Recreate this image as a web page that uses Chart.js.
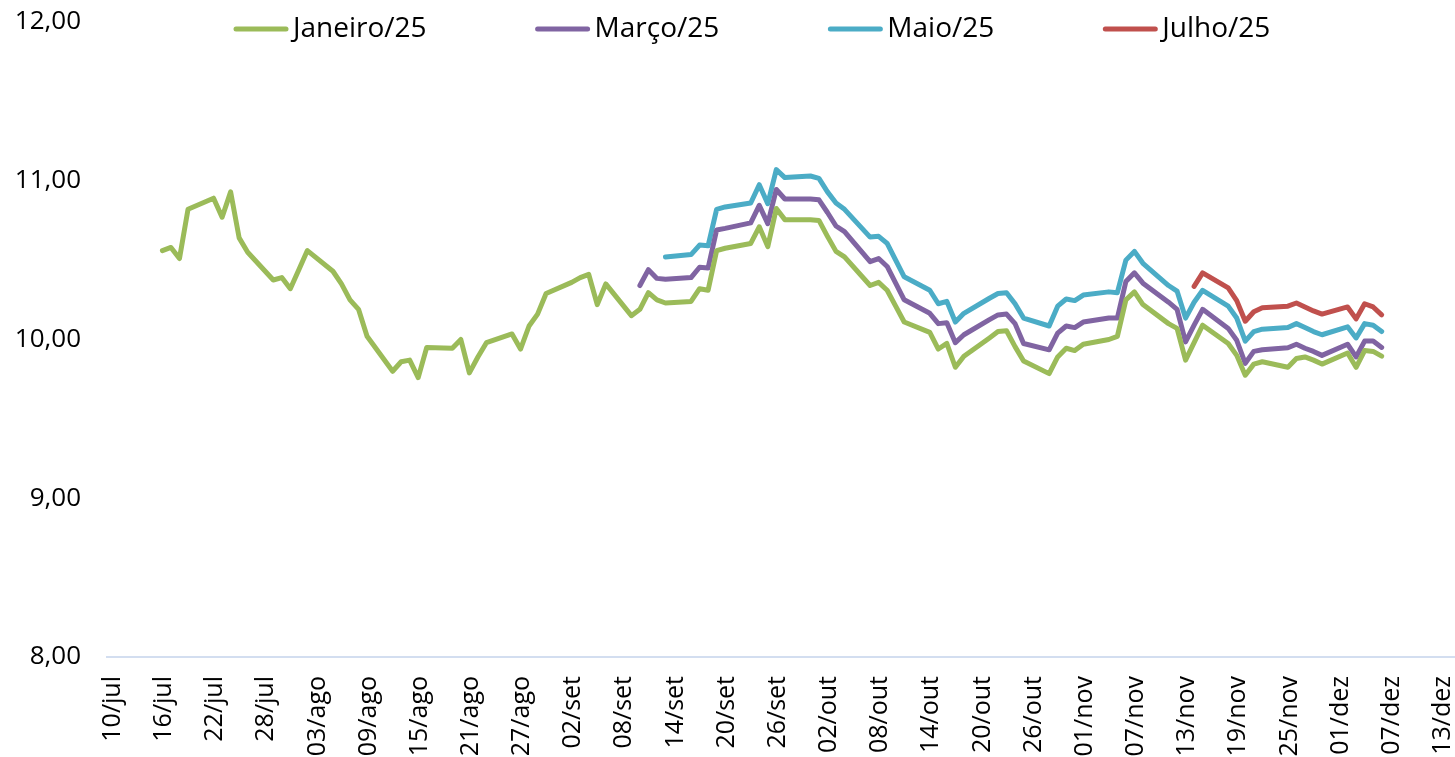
<!DOCTYPE html>
<html lang="pt-BR">
<head>
<meta charset="utf-8">
<title>Curvas de taxa</title>
<script src="https://cdn.jsdelivr.net/npm/chart.js@4.4.1/dist/chart.umd.min.js"></script>
<style>
  html, body { margin: 0; padding: 0; background: #fff; overflow: hidden; }
  #grafico { display: block; }
</style>
</head>
<body>
<canvas id="grafico" width="1455" height="800"></canvas>
<script>
// dias úteis (dd/mm, ano 2025)
const datas = [
    "15/07", "16/07", "17/07", "18/07", "21/07", "22/07", "23/07", "24/07", "25/07", "28/07", "29/07", "30/07", "31/07",
    "01/08", "04/08", "05/08", "06/08", "07/08", "08/08", "11/08", "12/08", "13/08", "14/08", "15/08", "18/08", "19/08",
    "20/08", "21/08", "22/08", "25/08", "26/08", "27/08", "28/08", "29/08",
    "01/09", "02/09", "03/09", "04/09", "05/09", "08/09", "09/09", "10/09", "11/09", "12/09", "15/09", "16/09", "17/09",
    "18/09", "19/09", "22/09", "23/09", "24/09", "25/09", "26/09", "29/09", "30/09",
    "01/10", "02/10", "03/10", "06/10", "07/10", "08/10", "09/10", "10/10", "13/10", "14/10", "15/10", "16/10", "17/10",
    "20/10", "21/10", "22/10", "23/10", "24/10", "27/10", "28/10", "29/10", "30/10", "31/10",
    "03/11", "04/11", "05/11", "06/11", "07/11", "10/11", "11/11", "12/11", "13/11", "14/11", "17/11", "18/11", "19/11",
    "20/11", "21/11", "24/11", "25/11", "26/11", "27/11", "28/11",
    "01/12", "02/12", "03/12", "04/12", "05/12"
];

// cada série termina em 05/12 (começa mais tarde quando é mais curta)
const janeiro25 = [
    10.56, 10.58, 10.51, 10.82, 10.89, 10.77, 10.93, 10.64, 10.55, 10.375, 10.39, 10.32, 10.44,
    10.56, 10.43, 10.35, 10.25, 10.19, 10.02, 9.80, 9.86, 9.87, 9.76, 9.95, 9.945, 10.00,
    9.79, 9.89, 9.98, 10.035, 9.94, 10.085, 10.16, 10.29,
    10.36, 10.39, 10.41, 10.22, 10.35, 10.15, 10.19, 10.295, 10.25, 10.23, 10.24, 10.32, 10.31,
    10.56, 10.575, 10.605, 10.71, 10.585, 10.825, 10.755, 10.755, 10.75,
    10.65, 10.555, 10.52, 10.34, 10.36, 10.31, 10.21, 10.11, 10.045, 9.94, 9.975, 9.825, 9.895,
    10.01, 10.05, 10.055, 9.955, 9.865, 9.785, 9.89, 9.945, 9.93, 9.97,
    10.00, 10.02, 10.25, 10.30, 10.22, 10.10, 10.07, 9.87, 9.98, 10.09, 9.975, 9.90, 9.775,
    9.845, 9.86, 9.825, 9.88, 9.89, 9.87, 9.845,
    9.915, 9.825, 9.93, 9.925, 9.895
];
const marco25 = [
    10.34, 10.44, 10.385, 10.38, 10.39, 10.455, 10.45, 10.69, 10.70, 10.735, 10.845, 10.73, 10.945, 10.885, 10.885, 10.88,
    10.80, 10.715, 10.68, 10.49, 10.51, 10.46, 10.355, 10.25, 10.165, 10.10, 10.105, 9.98, 10.03,
    10.125, 10.155, 10.16, 10.10, 9.975, 9.935, 10.04, 10.085, 10.075, 10.11,
    10.135, 10.135, 10.365, 10.42, 10.355, 10.235, 10.19, 9.985, 10.09, 10.19, 10.07, 9.995, 9.85,
    9.925, 9.935, 9.948, 9.97, 9.945, 9.925, 9.90,
    9.97, 9.89, 9.99, 9.99, 9.95
];
const maio25 = [
    10.52, 10.535, 10.595, 10.59, 10.82, 10.835, 10.86, 10.975, 10.855, 11.07, 11.02, 11.03, 11.015,
    10.93, 10.86, 10.82, 10.645, 10.65, 10.605, 10.50, 10.395, 10.31, 10.225, 10.24, 10.11, 10.165,
    10.26, 10.29, 10.295, 10.225, 10.135, 10.085, 10.21, 10.255, 10.245, 10.28,
    10.30, 10.295, 10.50, 10.555, 10.48, 10.34, 10.305, 10.135, 10.235, 10.31, 10.21, 10.135, 9.99,
    10.05, 10.065, 10.075, 10.10, 10.075, 10.05, 10.03,
    10.08, 10.01, 10.10, 10.09, 10.05
];
const julho25 = [
    10.335, 10.42, 10.325, 10.245, 10.115, 10.175, 10.20, 10.21, 10.23, 10.205, 10.18, 10.16,
    10.205, 10.13, 10.225, 10.205, 10.155
];

// rótulos do eixo x, um a cada 6 dias a partir de 10/jul
const rotulosX = [
    "10/jul", "16/jul", "22/jul", "28/jul", "03/ago", "09/ago", "15/ago", "21/ago", "27/ago",
    "02/set", "08/set", "14/set", "20/set", "26/set", "02/out", "08/out", "14/out", "20/out",
    "26/out", "01/nov", "07/nov", "13/nov", "19/nov", "25/nov", "01/dez", "07/dez", "13/dez"
];
const passoRotulos = 6;

const fonte = "'Open Sans', 'Noto Sans', sans-serif";
const inicio = Date.UTC(2025, 6, 10);

// dias corridos desde 10/jul
function diaDe(ddmm) {
    const [d, mes] = ddmm.split("/").map(Number);
    return (Date.UTC(2025, mes - 1, d) - inicio) / 86400000;
}

// casa os valores com as últimas datas da lista
function pontos(valores) {
    const desde = datas.length - valores.length;
    return valores.map((v, i) => ({ x: diaDe(datas[desde + i]), y: v }));
}

function serie(nome, valores, cor) {
    return {
        label: nome,
        data: pontos(valores),
        borderColor: cor,
        backgroundColor: cor,
        borderWidth: 5,
        borderCapStyle: "round",
        borderJoinStyle: "round",
        pointRadius: 0,
        tension: 0,
        fill: false
    };
}

// legenda em linha sobre a área do gráfico
const legendaTopo = {
    id: "legendaTopo",
    afterDraw(chart) {
        const ctx = chart.ctx;
        const y = 29;
        let x = 233;
        ctx.save();
        ctx.font = "28px " + fonte;
        ctx.textBaseline = "middle";
        chart.data.datasets.forEach(ds => {
            ctx.strokeStyle = ds.borderColor;
            ctx.lineWidth = 5;
            ctx.lineCap = "round";
            ctx.beginPath();
            ctx.moveTo(x + 3, y);
            ctx.lineTo(x + 53, y);
            ctx.stroke();
            ctx.fillStyle = "#000";
            ctx.fillText(ds.label, x + 60, y);
            x += 60 + ctx.measureText(ds.label).width + 108;
        });
        ctx.restore();
    }
};

new Chart(document.getElementById("grafico"), {
    type: "line",
    data: {
        datasets: [
            serie("Janeiro/25", janeiro25, "#9BBB59"),
            serie("Março/25", marco25, "#8064A2"),
            serie("Maio/25", maio25, "#4BACC6"),
            serie("Julho/25", julho25, "#C0504D")
        ]
    },
    options: {
        responsive: false,
        animation: false,
        events: [],
        layout: { padding: { top: 22, right: 0, left: 0, bottom: 0 } },
        plugins: {
            legend: { display: false },
            tooltip: { enabled: false }
        },
        scales: {
            x: {
                type: "linear",
                min: -1.5,
                max: 156.6,
                grid: { display: false, drawTicks: false },
                border: { display: true, color: "#d3def0", width: 2 },
                afterBuildTicks: (scale) => {
                    scale.ticks = rotulosX.map((_, i) => ({ value: i * passoRotulos }));
                },
                afterFit: (scale) => {
                    scale.height = 800 - 657;
                    scale.paddingLeft = 0;
                    scale.paddingRight = 0;
                },
                ticks: {
                    autoSkip: false,
                    minRotation: 90,
                    maxRotation: 90,
                    padding: 19,
                    labelOffset: -7,
                    color: "#000",
                    font: { family: fonte, size: 25 },
                    callback: (valor, i) => rotulosX[i]
                }
            },
            y: {
                min: 8,
                max: 12,
                grid: { display: false, drawTicks: false },
                border: { display: false },
                afterFit: (scale) => {
                    scale.width = 107;
                    scale.paddingTop = 0;
                    scale.paddingBottom = 0;
                },
                ticks: {
                    stepSize: 1,
                    padding: 26,
                    color: "#000",
                    font: { family: fonte, size: 26 },
                    callback: (v) => v.toFixed(2).replace(".", ",")
                }
            }
        }
    },
    plugins: [legendaTopo]
});
</script>
</body>
</html>
